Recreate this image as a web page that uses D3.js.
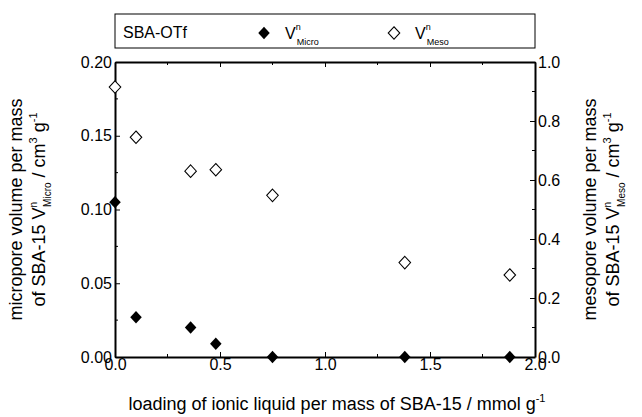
<!DOCTYPE html><html><head><meta charset="utf-8"><script src="https://cdn.jsdelivr.net/npm/d3@7"></script>
<style>body{margin:0;background:#fff}text{font-family:"Liberation Sans",Arial,sans-serif}</style></head><body><svg id="c" width="642" height="417"></svg><script>
const loading=[0,0.1,0.36,0.48,0.75,1.38,1.88];
const vMicro=[0.105,0.027,0.020,0.009,0,0,0];
const vMeso=[0.915,0.745,0.63,0.635,0.548,0.32,0.278];
const xTicks=[0,0.5,1,1.5,2];
const yLTicks=[0,0.05,0.1,0.15,0.2];
const yRTicks=[0,0.2,0.4,0.6,0.8,1.0];
const svg=d3.select("#c");
const L=115,R=535,T=62,B=357;
const x=d3.scaleLinear().domain([0,2]).range([L,R]);
const yl=d3.scaleLinear().domain([0,0.2]).range([B,T]);
const yr=d3.scaleLinear().domain([0,1]).range([B,T]);
const fs=16;
function ax(g,a){g.call(a);g.select(".domain").attr("stroke","#000").attr("stroke-width",2);g.selectAll("text").attr("font-size",fs).attr("fill","#000");g.selectAll("line").attr("stroke","#000");}
ax(svg.append("g").attr("transform",`translate(0,${B})`),d3.axisBottom(x).tickValues(xTicks).tickFormat(d3.format(".1f")).tickSizeInner(-5).tickSizeOuter(0).tickPadding(2));
svg.append("g").attr("transform",`translate(0,${B})`).selectAll("line").data([0.25,0.75,1.25,1.75]).join("line").attr("x1",d=>x(d)).attr("x2",d=>x(d)).attr("y1",0).attr("y2",-3).attr("stroke","#000");
ax(svg.append("g").attr("transform",`translate(0,${T})`),d3.axisTop(x).tickValues(xTicks).tickFormat("").tickSizeInner(-5).tickSizeOuter(0));
svg.append("g").attr("transform",`translate(0,${T})`).selectAll("line").data([0.25,0.75,1.25,1.75]).join("line").attr("x1",d=>x(d)).attr("x2",d=>x(d)).attr("y1",0).attr("y2",3).attr("stroke","#000");
ax(svg.append("g").attr("transform",`translate(${L},0)`),d3.axisLeft(yl).tickValues(yLTicks).tickFormat(d3.format(".2f")).tickSizeInner(-5).tickSizeOuter(0).tickPadding(3));
svg.append("g").attr("transform",`translate(${L},0)`).selectAll("line").data([0.025,0.075,0.125,0.175]).join("line").attr("y1",d=>yl(d)).attr("y2",d=>yl(d)).attr("x1",0).attr("x2",3).attr("stroke","#000");
ax(svg.append("g").attr("transform",`translate(${R},0)`),d3.axisRight(yr).tickValues(yRTicks).tickFormat(d3.format(".1f")).tickSizeInner(-5).tickSizeOuter(0).tickPadding(3));
svg.append("g").attr("transform",`translate(${R},0)`).selectAll("line").data([0.1,0.3,0.5,0.7,0.9]).join("line").attr("y1",d=>yr(d)).attr("y2",d=>yr(d)).attr("x1",0).attr("x2",-3).attr("stroke","#000");
const dia=d3.symbol().type(d3.symbolDiamond).size(45);
const sx="scale(1.6,1)";
svg.append("g").selectAll("path").data(loading).join("path").attr("d",dia).attr("transform",(d,i)=>`translate(${x(d)},${yr(vMeso[i])}) ${sx}`).attr("fill","#fff").attr("stroke","#000").attr("stroke-width",0.8);
svg.append("g").selectAll("path").data(loading).join("path").attr("d",dia).attr("transform",(d,i)=>`translate(${x(d)},${yl(vMicro[i])}) ${sx}`).attr("fill","#000");
// legend
svg.append("rect").attr("x",L).attr("y",14).attr("width",R-L).attr("height",34).attr("fill","#fff").attr("stroke","#000");
svg.append("text").attr("x",L+8).attr("y",38).attr("font-size",16).text("SBA-OTf");
svg.append("path").attr("d",dia).attr("transform",`translate(264,33) ${sx}`).attr("fill","#000");
svg.append("path").attr("d",dia).attr("transform",`translate(394,33) ${sx}`).attr("fill","#fff").attr("stroke","#000").attr("stroke-width",0.8);
function vlab(xx,sub){const t=svg.append("text").attr("x",xx).attr("y",39).attr("font-size",16);t.append("tspan").text("V");t.append("tspan").attr("dy",-9).attr("font-size",9).text("n");t.append("tspan").attr("dy",15).attr("dx",-4).attr("font-size",9).text(sub);}
vlab(285,"Micro");vlab(415,"Meso");
svg.append("text").attr("x",(L+R)/2+12).attr("y",410).attr("text-anchor","middle").attr("font-size",18).html('loading of ionic liquid per mass of SBA-15 / mmol g<tspan dy="-8" font-size="11">-1</tspan>');
function ylab(cx,l1,sub){const g=svg.append("g").attr("transform",`translate(${cx},${(T+B)/2}) rotate(-90)`);
g.append("text").attr("y",-12).attr("text-anchor","middle").attr("font-size",18).text(l1);
const t=g.append("text").attr("y",11).attr("text-anchor","middle").attr("font-size",18);
t.append("tspan").text("of SBA-15  V");t.append("tspan").attr("dy",-8).attr("font-size",10).text("n");t.append("tspan").attr("dy",14).attr("dx",-5).attr("font-size",10).text(sub);
t.append("tspan").attr("dy",-6).text(" / cm");t.append("tspan").attr("dy",-8).attr("font-size",11).text("3");t.append("tspan").attr("dy",8).text(" g");t.append("tspan").attr("dy",-8).attr("font-size",11).text("-1");}
ylab(34,"micropore volume per mass","Micro");
ylab(608,"mesopore volume per mass","Meso");
</script></body></html>
